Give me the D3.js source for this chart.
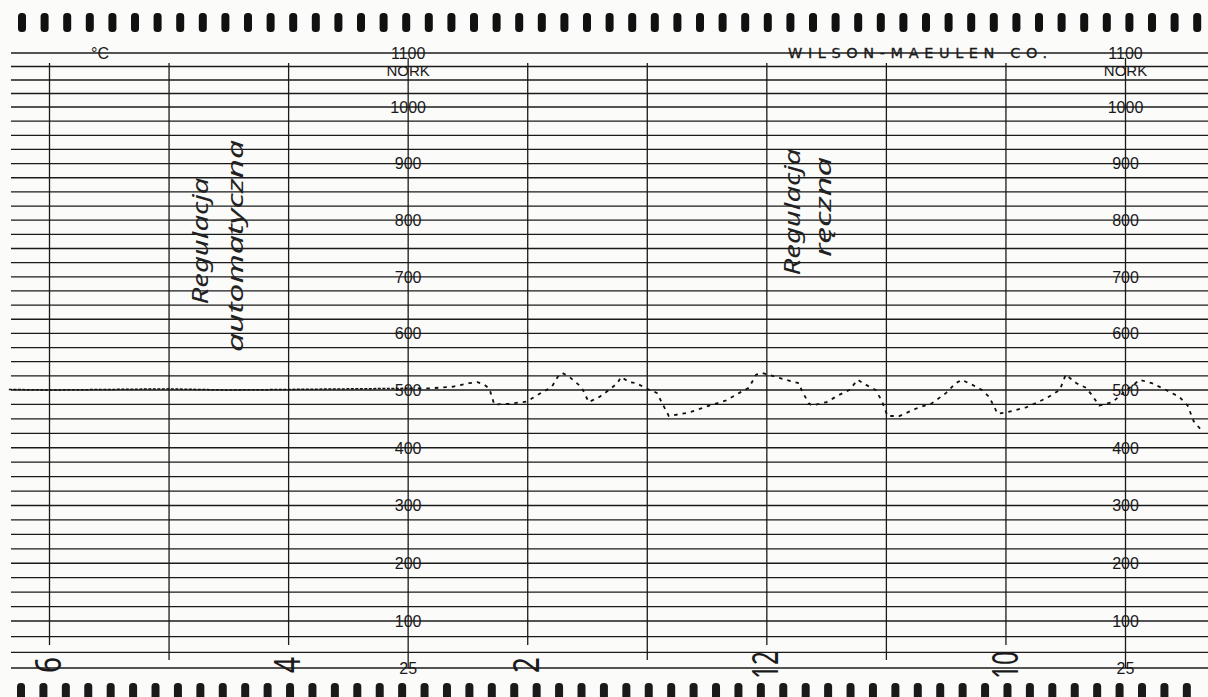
<!DOCTYPE html>
<html><head><meta charset="utf-8">
<script src="https://cdn.jsdelivr.net/npm/d3@7"></script>
<style>html,body{margin:0;padding:0;background:#fbfbfa;}svg{display:block}</style>
</head><body>
<svg id="c" width="1208" height="697"></svg>
<script>
// ---- data ----
const hourTicks  = [0, 1, 2, 3, 4, 5, 6, 7, 8, 9];
const hourLabels = ["6", "", "4", "", "2", "", "12", "", "10", ""];
const axisHours  = [3, 9];
const tempTicks  = [1100, 1000, 900, 800, 700, 600, 500, 400, 300, 200, 100, 25];
const gridValues = d3.range(25, 1101, 25);
const unitLabel  = "NORK";
const degLabel   = "°C";
const makerLabel = "WILSON-MAEULEN CO.";
const notes = [
  {lines: ["Regulacja", "automatyczna"], hour: 1.27},
  {lines: ["Regulacja", "ręczna"], hour: 6.22}
];
const traceHours = [-0.34, 0.0, 0.5, 1.0, 1.5, 2.0, 2.5, 3.01,
  3.19, 3.38, 3.51, 3.58, 3.64, 3.68, 3.72, 3.84, 3.99,
  4.04, 4.12, 4.20, 4.25, 4.29, 4.35, 4.40, 4.45,
  4.51, 4.60, 4.68, 4.75, 4.78, 4.85, 4.91, 4.97, 5.02, 5.08, 5.12, 5.18,
  5.35, 5.52, 5.66, 5.77, 5.85, 5.91, 5.96, 6.08, 6.16, 6.27,
  6.29, 6.35, 6.38,
  6.50, 6.60, 6.69, 6.76, 6.83, 6.91, 6.96, 7.01,
  7.11, 7.25, 7.38, 7.50, 7.58, 7.63, 7.72, 7.80, 7.86, 7.93, 8.00,
  8.17, 8.34, 8.45, 8.50, 8.59, 8.67, 8.72, 8.78,
  8.89, 9.01, 9.12, 9.22, 9.34, 9.45, 9.52, 9.57, 9.64];
const traceValues = [501, 500, 501, 502, 500, 501, 502, 503,
  503, 506, 512, 514, 509, 502, 475, 476, 480,
  486, 496, 505, 523, 530, 523, 514, 505,
  479, 488, 500, 512, 523, 514, 512, 505, 500, 495, 479, 455,
  461, 473, 482, 495, 504, 527, 530, 523, 518, 512,
  500, 477, 473,
  479, 491, 500, 518, 509, 500, 482, 455,
  455, 468, 477, 495, 512, 518, 509, 500, 488, 459, 461,
  470, 486, 500, 527, 512, 504, 491, 473,
  479, 500, 518, 512, 500, 488, 473, 446, 429];
const flatEnd = 7;

// ---- scales ----
const W = 1208, H = 697;
const x = d3.scaleLinear().domain([0, 9]).range([49.5, 1125.5]);
const y = d3.scaleLinear().domain([25, 100, 500, 1000, 1100]).range([668, 621, 390, 107, 53]);

const svg = d3.select("#c");
const ink = "#1b1b1b";
svg.append("rect").attr("width", W).attr("height", H).attr("fill", "#fbfbfa");

// sprocket holes
const holesTop = d3.range(0, 53);
svg.append("g").selectAll("rect").data(holesTop).join("rect")
  .attr("x", i => 22 + 22.6 * i - 4).attr("y", 13).attr("width", 8).attr("height", 19)
  .attr("rx", 3.5).attr("fill", "#111");
svg.append("g").selectAll("rect").data(holesTop).join("rect")
  .attr("x", i => 21 + 22.42 * i - 4).attr("y", 683).attr("width", 8).attr("height", 17)
  .attr("rx", 3.5).attr("fill", "#1a1a1a");

// horizontal grid
svg.append("g").selectAll("line").data(gridValues).join("line")
  .attr("x1", 11).attr("x2", W)
  .attr("y1", d => y(d)).attr("y2", d => y(d))
  .attr("stroke", ink).attr("stroke-width", 1.3);

// vertical grid
svg.append("g").selectAll("line").data(hourTicks).join("line")
  .attr("x1", d => x(d)).attr("x2", d => x(d))
  .attr("y1", d => axisHours.includes(d) ? y(1100) + 5 : y(1100) + 10)
  .attr("y2", (d, i) => axisHours.includes(d) ? y(25) : (hourLabels[i] ? y(25) - 23 : y(25) - 8))
  .attr("stroke", ink).attr("stroke-width", 1.3);

// temperature scale labels on the two axes
const numFont = "'Liberation Sans', Arial, sans-serif";
axisHours.forEach(h => {
  const g = svg.append("g");
  g.selectAll("text").data(tempTicks).join("text")
    .attr("x", x(h)).attr("y", d => y(d)).attr("dy", "0.36em")
    .attr("text-anchor", "middle").attr("font-family", numFont).attr("font-size", 16)
    .attr("fill", "#1a1a1a").text(d => d);
  g.append("text").attr("x", x(h)).attr("y", y(1100) + 18).attr("dy", "0.36em")
    .attr("text-anchor", "middle").attr("font-family", numFont).attr("font-size", 15)
    .attr("fill", "#1a1a1a").text(unitLabel);
});

// hour labels (rotated, hand lettered)
svg.append("g").selectAll("text").data(hourTicks.filter((d, i) => hourLabels[i]))
  .join("text")
  .attr("transform", d => `translate(${x(d) - 1},${y(25) - 3}) rotate(-90)`)
  .attr("text-anchor", "middle").attr("dy", "0.35em")
  .attr("font-family", "'Noto Sans', sans-serif").attr("font-size", 36).attr("font-weight", 400)
  .attr("textLength", d => hourLabels[d].length * 12 + 4)
  .attr("lengthAdjust", "spacingAndGlyphs")
  .attr("fill", "#1a1a1a")
  .text(d => hourLabels[d]);

// °C and maker label on top line
svg.append("text").attr("x", 100).attr("y", y(1100)).attr("dy", "0.36em")
  .attr("text-anchor", "middle").attr("font-family", numFont).attr("font-size", 16)
  .attr("fill", "#1a1a1a").text(degLabel);
svg.append("text").attr("x", 788).attr("y", y(1100)).attr("dy", "0.37em")
  .attr("font-family", "'DejaVu Sans', sans-serif").attr("font-size", 14.5)
  .attr("textLength", 259).attr("lengthAdjust", "spacing")
  .attr("fill", "#1a1a1a").attr("stroke", "#1a1a1a").attr("stroke-width", 0.3)
  .text(makerLabel);

// handwritten notes
const noteFont = "'Noto Sans', 'DejaVu Sans', sans-serif";
const noteLayout = [
  [{dx: 0, cy: 241, len: 127}, {dx: 35, cy: 246, len: 212}],
  [{dx: 0, cy: 212, len: 127}, {dx: 31, cy: 207, len: 100}]
];
notes.forEach((n, k) => {
  n.lines.forEach((t, j) => {
    const L = noteLayout[k][j];
    svg.append("text")
      .attr("transform", `translate(${x(n.hour) + L.dx},${L.cy}) rotate(-90)`)
      .attr("text-anchor", "middle").attr("dy", "0.32em")
      .attr("font-family", noteFont).attr("font-style", "italic").attr("font-weight", 400)
      .attr("font-size", 21)
      .attr("textLength", L.len).attr("lengthAdjust", "spacingAndGlyphs")
      .attr("fill", "#222")
      .text(t);
  });
});

// temperature trace
const pts = traceHours.map((h, i) => [h, traceValues[i]]);
const line = d3.line().x(d => x(d[0])).y(d => y(d[1]));
svg.append("path").attr("d", line(pts.slice(0, flatEnd + 1)))
  .attr("fill", "none").attr("stroke", "#111").attr("stroke-width", 1.5)
  .attr("stroke-dasharray", "3,1.5");
svg.append("path").attr("d", line(pts.slice(flatEnd)))
  .attr("fill", "none").attr("stroke", "#111").attr("stroke-width", 1.8)
  .attr("stroke-dasharray", "3.5,5");
</script>
</body></html>
